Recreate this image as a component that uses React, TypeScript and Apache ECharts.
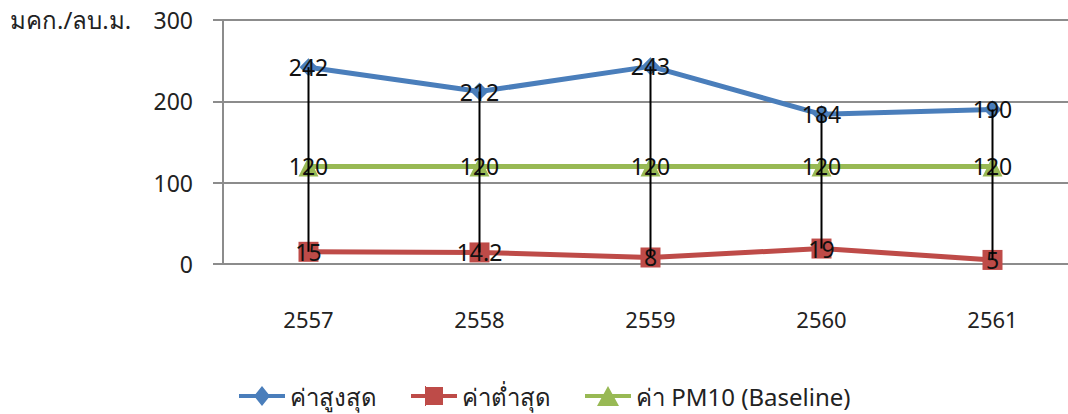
import React, { useEffect, useRef } from "react";
import * as echarts from "echarts";

const categories = ["2557", "2558", "2559", "2560", "2561"];
const maxValues = [242, 212, 243, 184, 190];
const minValues = [15, 14.2, 8, 19, 5];
const baselineValues = [120, 120, 120, 120, 120];
const seriesNames = ["ค่าสูงสุด", "ค่าต่ำสุด", "ค่า PM10 (Baseline)"];
const unitLabel = "มคก./ลบ.ม.";

const FONT = "Tahoma, 'Noto Sans', 'DejaVu Sans', sans-serif";

const legendIcons = [
  "path://M0,8h46v4H0z M23,0L31,10L23,20L15,10z",
  "path://M0,8h46v4H0z M14,1h18v18H14z M14,0h1v1h-1z M14,19h1v1h-1z",
  "path://M0,8h46v4H0z M23,0L34,20H12z",
];

export default function App() {
  const ref = useRef<HTMLDivElement>(null);
  useEffect(() => {
    if (!ref.current) return;
    const chart = echarts.init(ref.current, undefined, { renderer: "svg" });
    const labelStyle = {
      show: true,
      position: "inside" as const,
      color: "#111",
      fontSize: 23,
      fontFamily: FONT,
    };
    const hlData = categories.map((_, i) => [i, maxValues[i], minValues[i]]);
    chart.setOption({
      animation: false,
      backgroundColor: "#fff",
      textStyle: { fontFamily: FONT },
      grid: { left: 223, top: 20, width: 855, height: 244 },
      graphic: [
        {
          type: "text",
          left: 10,
          top: 7,
          style: { text: unitLabel, fontSize: 24, fill: "#222", fontFamily: FONT },
        },
      ],
      legend: {
        data: seriesNames.map((n, i) => ({ name: n, icon: legendIcons[i] })),
        bottom: 1,
        left: 234,
        itemWidth: 46,
        itemHeight: 20,
        itemGap: 34,
        symbolKeepAspect: false,
        textStyle: { fontSize: 24, color: "#222", fontFamily: FONT },
      },
      xAxis: {
        type: "category",
        data: categories,
        boundaryGap: true,
        axisLine: { show: false },
        axisTick: { show: false },
        axisLabel: { margin: 44, fontSize: 22, color: "#222", fontFamily: FONT },
      },
      yAxis: {
        type: "value",
        min: 0,
        max: 300,
        interval: 100,
        axisLine: { show: true, lineStyle: { color: "#8c8c8c", width: 2 } },
        axisTick: { show: true, length: 10, lineStyle: { color: "#8c8c8c", width: 2 } },
        axisLabel: { margin: 30, fontSize: 23, color: "#222", fontFamily: FONT },
        splitLine: { lineStyle: { color: "#8c8c8c", width: 2 } },
      },
      series: [
        {
          name: seriesNames[0],
          type: "line",
          data: maxValues,
          symbol: "diamond",
          symbolSize: 18,
          itemStyle: { color: "#4a7ebb" },
          lineStyle: { color: "#4a7ebb", width: 5 },
          label: labelStyle,
          z: 2,
        },
        {
          name: seriesNames[1],
          type: "line",
          data: minValues,
          symbol: "rect",
          symbolSize: 20,
          itemStyle: { color: "#be4b48" },
          lineStyle: { color: "#be4b48", width: 5 },
          label: labelStyle,
          z: 2,
        },
        {
          name: seriesNames[2],
          type: "line",
          data: baselineValues,
          symbol: "triangle",
          symbolSize: 20,
          itemStyle: { color: "#98b954" },
          lineStyle: { color: "#98b954", width: 5 },
          label: labelStyle,
          z: 2,
        },
        {
          name: "hl",
          type: "custom",
          data: hlData,
          z: 3,
          renderItem: (_params: any, api: any) => {
            const p1 = api.coord([api.value(0), api.value(1)]);
            const p2 = api.coord([api.value(0), api.value(2)]);
            return {
              type: "line",
              shape: { x1: p1[0], y1: p1[1], x2: p2[0], y2: p2[1] },
              style: { stroke: "#000", lineWidth: 2 },
            };
          },
        },
      ],
    });
    return () => chart.dispose();
  }, []);
  return (
    <div
      style={{
        position: "absolute",
        left: 0,
        top: 0,
        width: 1068,
        height: 414,
        overflow: "hidden",
      }}
    >
      <div ref={ref} style={{ width: 1090, height: 414 }} />
    </div>
  );
}
